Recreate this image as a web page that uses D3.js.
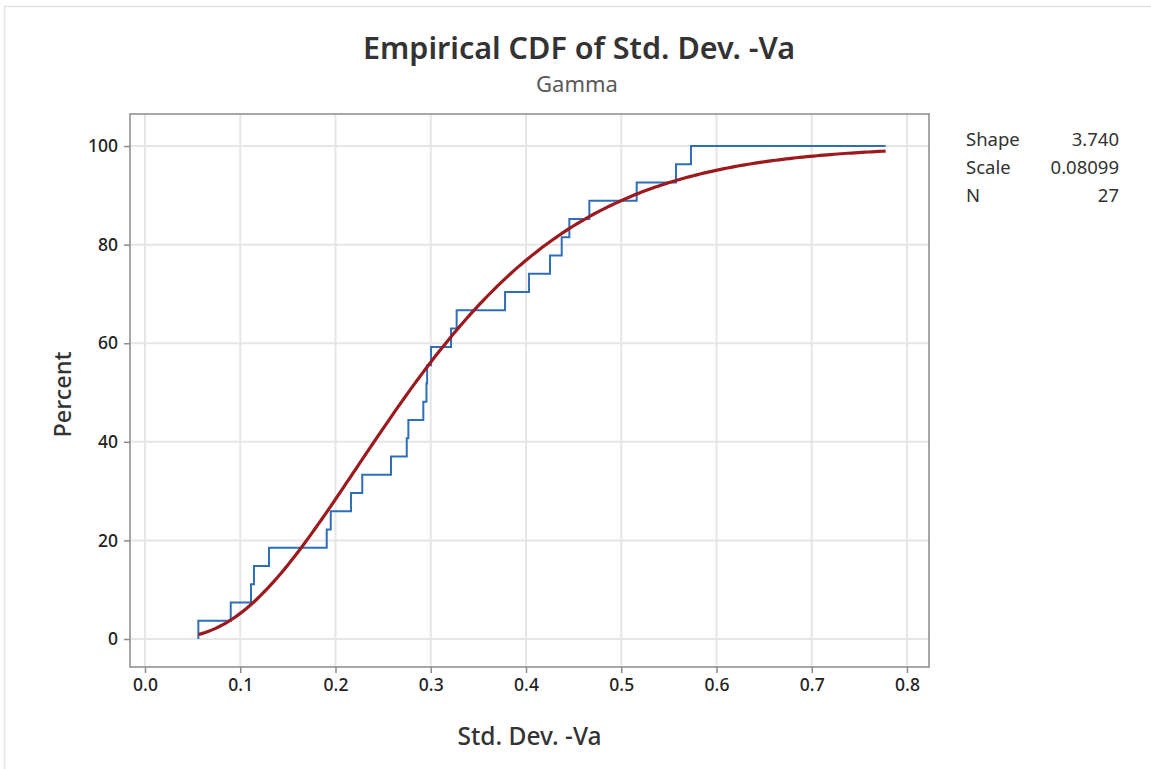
<!DOCTYPE html>
<html>
<head>
<meta charset="utf-8">
<script src="https://cdn.jsdelivr.net/npm/d3@7"></script>
<style>
  html, body { margin: 0; padding: 0; background: #fff; }
  svg { display: block; font-family: "Segoe UI", "Noto Sans", "Open Sans", sans-serif; }
</style>
</head>
<body>
<div id="main"></div>
<script>
"use strict";

// sorted sample values (Std. Dev. -Va), one step per observation
var sampleValues = [
  0.0560, 0.0900, 0.1113, 0.1144, 0.1302, 0.1908, 0.1950, 0.2163, 0.2281,
  0.2583, 0.2748, 0.2765, 0.2922, 0.2955, 0.2962, 0.3003, 0.3213, 0.3272,
  0.3780, 0.4031, 0.4252, 0.4375, 0.4455, 0.4665, 0.5162, 0.5575, 0.5732
];
// range the fitted line and the last step are drawn over
var fitRange = [0.0560, 0.7776];
// fitted gamma parameters shown in the table
var statNames = ["Shape", "Scale", "N"];
var statValues = ["3.740", "0.08099", "27"];
var gammaShape = 3.740;
var gammaScale = 0.08099;
var xTicks = [0, 0.1, 0.2, 0.3, 0.4, 0.5, 0.6, 0.7, 0.8];
var yTicks = [0, 20, 40, 60, 80, 100];

var W = 1151, H = 769;
var box = { left: 130, right: 929, top: 114, bottom: 667 };
var FONT = "\"Segoe UI\", \"Noto Sans\", \"Open Sans\", sans-serif";

// log gamma (Lanczos)
function lnGamma(z) {
  var g = 7;
  var c = [0.99999999999980993, 676.5203681218851, -1259.1392167224028,
    771.32342877765313, -176.61502916214059, 12.507343278686905,
    -0.13857109526572012, 9.9843695780195716e-6, 1.5056327351493116e-7];
  if (z < 0.5) return Math.log(Math.PI / Math.sin(Math.PI * z)) - lnGamma(1 - z);
  z -= 1;
  var a = c[0];
  var t = z + g + 0.5;
  for (var i = 1; i < g + 2; i++) a += c[i] / (z + i);
  return 0.5 * Math.log(2 * Math.PI) + (z + 0.5) * Math.log(t) - t + Math.log(a);
}

// regularized lower incomplete gamma, series form
function gammaCdf(x, k, theta) {
  if (x <= 0) return 0;
  var z = x / theta;
  var term = 1 / k, sum = term;
  for (var n = 1; n < 500; n++) {
    term *= z / (k + n);
    sum += term;
    if (term < sum * 1e-12) break;
  }
  return sum * Math.exp(-z + k * Math.log(z) - lnGamma(k));
}

var x = d3.scaleLinear().domain([-0.01575, 0.8231]).range([box.left, box.right]);
var y = d3.scaleLinear().domain([-5.68, 106.5]).range([box.bottom, box.top]);

var svg = d3.select("#main").append("svg").attr("width", W).attr("height", H);

// outer frame
svg.append("rect").attr("x", 4.5).attr("y", 6.5).attr("width", W + 10).attr("height", H + 10)
  .attr("fill", "#fff").attr("stroke", "#e3e3e3").attr("stroke-width", 1.5);

// gridlines
svg.append("g").selectAll("line").data(xTicks).enter().append("line")
  .attr("x1", function(d) { return x(d); }).attr("x2", function(d) { return x(d); })
  .attr("y1", box.top).attr("y2", box.bottom)
  .attr("stroke", "#e6e6e6").attr("stroke-width", 2);
svg.append("g").selectAll("line").data(yTicks).enter().append("line")
  .attr("y1", function(d) { return y(d); }).attr("y2", function(d) { return y(d); })
  .attr("x1", box.left).attr("x2", box.right)
  .attr("stroke", "#e6e6e6").attr("stroke-width", 2);

// axes
var xAxis = svg.append("g").attr("transform", "translate(0," + box.bottom + ")")
  .call(d3.axisBottom(x).tickValues(xTicks).tickFormat(d3.format(".1f")).tickSize(6).tickPadding(6));
var yAxis = svg.append("g").attr("transform", "translate(" + box.left + ",0)")
  .call(d3.axisLeft(y).tickValues(yTicks).tickSize(6).tickPadding(6));
[xAxis, yAxis].forEach(function(g) {
  g.attr("font-size", null).attr("font-family", null);
  g.select(".domain").remove();
  g.selectAll(".tick line").attr("stroke", "#8c8c8c").attr("stroke-width", 1.5);
  g.selectAll(".tick text").attr("fill", "#222").style("font-size", "17.5px")
    .style("font-weight", 500).style("font-family", FONT);
});

// plot frame
svg.append("rect").attr("x", box.left).attr("y", box.top)
  .attr("width", box.right - box.left).attr("height", box.bottom - box.top)
  .attr("fill", "none").attr("stroke", "#8a8a8a").attr("stroke-width", 1.5);

// empirical cdf steps
var n = sampleValues.length;
var steps = [[sampleValues[0], 0]];
sampleValues.forEach(function(v, i) { steps.push([v, (i + 1) / n * 100]); });
steps.push([fitRange[1], 100]);
svg.append("path").datum(steps)
  .attr("fill", "none").attr("stroke", "#2f6fba").attr("stroke-width", 2)
  .attr("d", d3.line().x(function(d) { return x(d[0]); }).y(function(d) { return y(d[1]); })
    .curve(d3.curveStepAfter));

// fitted gamma cdf
var fit = d3.range(0, 201).map(function(i) {
  var v = fitRange[0] + (fitRange[1] - fitRange[0]) * i / 200;
  return [v, gammaCdf(v, gammaShape, gammaScale) * 100];
});
svg.append("path").datum(fit)
  .attr("fill", "none").attr("stroke", "#9c1a1d").attr("stroke-width", 3.2)
  .attr("d", d3.line().x(function(d) { return x(d[0]); }).y(function(d) { return y(d[1]); }));

// titles
svg.append("text").attr("x", 579).attr("y", 59).attr("text-anchor", "middle")
  .attr("fill", "#333").style("font-size", "30.5px").style("font-weight", 600)
  .text("Empirical CDF of Std. Dev. -Va");
svg.append("text").attr("x", 577).attr("y", 92).attr("text-anchor", "middle")
  .attr("fill", "#595959").style("font-size", "22px")
  .text("Gamma");
svg.append("text").attr("x", (box.left + box.right) / 2).attr("y", 745).attr("text-anchor", "middle")
  .attr("fill", "#333").style("font-size", "24.5px").style("font-weight", 500)
  .text("Std. Dev. -Va");
svg.append("text").attr("transform", "translate(71," + ((box.top + box.bottom) / 2 + 4) + ") rotate(-90)")
  .attr("text-anchor", "middle").attr("fill", "#333").style("font-size", "23.5px").style("font-weight", 500)
  .text("Percent");

// parameter table
var table = svg.append("g").selectAll("g").data(statNames).enter().append("g")
  .attr("transform", function(d, i) { return "translate(0," + (146 + i * 28) + ")"; });
table.append("text").attr("x", 966).attr("fill", "#333").style("font-size", "18.5px")
  .text(function(d) { return d; });
table.append("text").attr("x", 1119).attr("text-anchor", "end").attr("fill", "#333").style("font-size", "18.5px")
  .text(function(d, i) { return statValues[i]; });
</script>
</body>
</html>
